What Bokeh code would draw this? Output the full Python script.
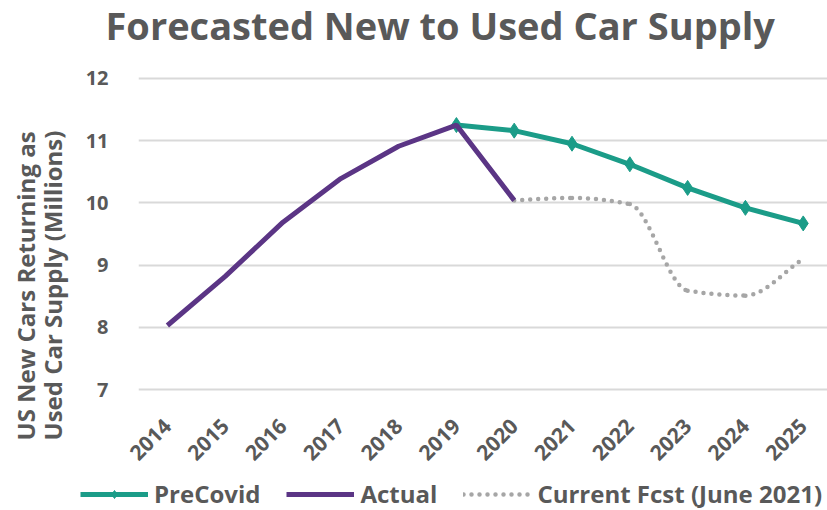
import math
from bokeh.plotting import figure
from bokeh.layouts import column, row
from bokeh.models import (Range1d, FixedTicker, Legend, LegendItem, ColumnDataSource, Label)
from bokeh.embed import file_html
from bokeh.resources import INLINE

# --- data -------------------------------------------------------------
years = [2014, 2015, 2016, 2017, 2018, 2019, 2020, 2021, 2022, 2023, 2024, 2025]

actual_years = [2014, 2015, 2016, 2017, 2018, 2019, 2020]
actual_vals = [8.03, 8.82, 9.69, 10.39, 10.91, 11.25, 10.04]

precovid_years = [2019, 2020, 2021, 2022, 2023, 2024, 2025]
precovid_vals = [11.25, 11.16, 10.95, 10.62, 10.24, 9.92, 9.67]

fcst_years = [2020, 2021, 2022, 2023, 2024, 2025]
fcst_vals = [10.04, 10.08, 9.98, 8.59, 8.51, 9.10]

y_ticks = [7, 8, 9, 10, 11, 12]

y_caption = ["US New Cars Returning as", "Used Car Supply (Millions)"]

TEXT = "#595959"
TEAL = "#1B9C88"
PURPLE = "#5B3585"
GREY = "#A6A6A6"
FONT = "Open Sans"


def free_frame(fig):
    # keep each figure's frame independent inside the layout
    if "frame_align" in type(fig).properties():
        fig.frame_align = False


def strip(width, height):
    # plain full-bleed panel used for heading, caption and legend
    f = figure(width=width, height=height, output_backend="svg", toolbar_location=None,
               x_range=Range1d(0, 1), y_range=Range1d(0, 1),
               x_axis_type=None, y_axis_type=None, min_border=0, title=None)
    f.grid.visible = False
    f.outline_line_color = None
    free_frame(f)
    return f


# --- heading ----------------------------------------------------------
head = strip(827, 62)
head.add_layout(Label(
    x=105, y=38, x_units="screen", y_units="screen",
    text="Forecasted New to Used Car Supply",
    text_font=FONT, text_font_style="bold", text_font_size="38px",
    text_color=TEXT, text_align="left", text_baseline="alphabetic",
))

# --- rotated y-axis caption -------------------------------------------
cap = strip(70, 408)
for xpos, line in zip((25, 52), y_caption):
    cap.add_layout(Label(
        x=xpos, y=30, x_units="screen", y_units="screen",
        text=line, angle=math.pi / 2,
        text_font=FONT, text_font_style="bold", text_font_size="24px",
        text_color=TEXT, text_align="left", text_baseline="middle",
    ))

# --- main chart -------------------------------------------------------
p = figure(
    width=757, height=408,
    output_backend="svg", toolbar_location=None,
    x_range=Range1d(2013.5, 2025.42), y_range=Range1d(6.97, 12.03),
    min_border_left=68, min_border_right=0,
    min_border_top=14, min_border_bottom=78,
    title=None,
)
free_frame(p)
p.outline_line_color = None
p.background_fill_color = "white"
p.border_fill_color = "white"

p.xaxis.ticker = FixedTicker(ticks=years)
p.yaxis.ticker = FixedTicker(ticks=y_ticks)
for ax in (p.xaxis[0], p.yaxis[0]):
    ax.axis_line_color = None
    ax.major_tick_line_color = None
    ax.minor_tick_line_color = None
    ax.major_label_text_font = FONT
    ax.major_label_text_font_style = "bold"
    ax.major_label_text_color = TEXT
p.yaxis.major_label_text_font_size = "20px"
p.xaxis.major_label_text_font_size = "21px"
p.yaxis.major_label_standoff = 24
p.xaxis.major_label_orientation = math.pi / 4
p.xaxis.major_label_standoff = 25

p.xgrid.grid_line_color = None
p.ygrid.grid_line_color = "#D9D9D9"
p.ygrid.grid_line_width = 2

# PreCovid series (line + diamond markers)
pre_style = dict(line_color=TEAL, line_width=5)
pre_mark = dict(marker="diamond", size=15, fill_color=TEAL, line_color=TEAL)
p.line(precovid_years, precovid_vals, **pre_style)
p.scatter(precovid_years, precovid_vals, **pre_mark)

# Current forecast drawn as a monotone cubic curve (Fritsch-Carlson tangents)
n = len(fcst_years)
secants = [(fcst_vals[i + 1] - fcst_vals[i]) / (fcst_years[i + 1] - fcst_years[i])
           for i in range(n - 1)]
tangents = [secants[0]]
for i in range(1, n - 1):
    a, b = secants[i - 1], secants[i]
    tangents.append(0.0 if a * b <= 0 else 2.0 / (1.0 / a + 1.0 / b))
tangents.append(secants[-1])

seg = dict(x0=[], y0=[], x1=[], y1=[], cx0=[], cy0=[], cx1=[], cy1=[])
for i in range(n - 1):
    h = fcst_years[i + 1] - fcst_years[i]
    seg["x0"].append(fcst_years[i]); seg["y0"].append(fcst_vals[i])
    seg["x1"].append(fcst_years[i + 1]); seg["y1"].append(fcst_vals[i + 1])
    seg["cx0"].append(fcst_years[i] + h / 3); seg["cy0"].append(fcst_vals[i] + tangents[i] * h / 3)
    seg["cx1"].append(fcst_years[i + 1] - h / 3); seg["cy1"].append(fcst_vals[i + 1] - tangents[i + 1] * h / 3)
fcst_style = dict(line_color=GREY, line_width=4.5, line_dash="0 8", line_cap="round")
p.bezier(x0="x0", y0="y0", x1="x1", y1="y1", cx0="cx0", cy0="cy0",
         cx1="cx1", cy1="cy1", source=ColumnDataSource(seg), **fcst_style)

# Actual series
act_style = dict(line_color=PURPLE, line_width=5)
p.line(actual_years, actual_vals, **act_style)

# --- legend row; its stand-in renderers lie outside its view -----------
lg = strip(827, 40)
r_pre = [lg.line(precovid_years, precovid_vals, **pre_style),
         lg.scatter(precovid_years, precovid_vals, **pre_mark)]
r_act = [lg.line(actual_years, actual_vals, **act_style)]
r_fcst = [lg.line(fcst_years, fcst_vals, **fcst_style)]
legend = Legend(
    items=[
        LegendItem(label="PreCovid", renderers=r_pre),
        LegendItem(label="Actual", renderers=r_act),
        LegendItem(label="Current Fcst (June 2021)", renderers=r_fcst),
    ],
    orientation="horizontal",
    location=(80, 0),
    glyph_width=68, glyph_height=20,
    label_text_font=FONT, label_text_font_style="bold",
    label_text_font_size="24px", label_text_color=TEXT,
    label_standoff=6, spacing=26, padding=0, margin=0,
    border_line_color=None, background_fill_alpha=0,
)
lg.add_layout(legend, "center")

layout = column(head, row(cap, p, spacing=0), lg, spacing=0)
open("out.html", "w").write(file_html(layout, INLINE))
